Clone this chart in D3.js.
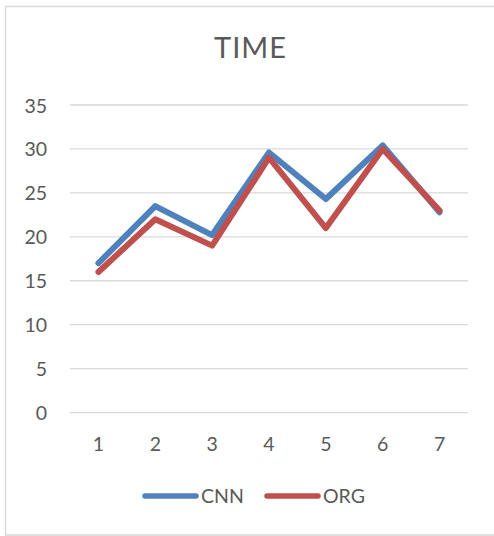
<!DOCTYPE html>
<html>
<head>
<meta charset="utf-8">
<script src="https://cdn.jsdelivr.net/npm/d3@7/dist/d3.min.js"></script>
<style>
  html, body { margin: 0; padding: 0; background: #fff; }
  svg { display: block; }
  text { font-family: Lato, "Noto Sans", sans-serif; fill: #595959; }
</style>
</head>
<body>
<svg id="chart" width="494" height="536"></svg>
<script>
// Chart data
const categories = ["1", "2", "3", "4", "5", "6", "7"];
const cnnValues = [17, 23.5, 20.2, 29.6, 24.3, 30.4, 22.8];
const orgValues = [16, 22, 19, 29, 21, 30, 23];
const yTicks = [0, 5, 10, 15, 20, 25, 30, 35];
const seriesNames = ["CNN", "ORG"];
const seriesColors = ["#4F81BD", "#C0504D"];

const svg = d3.select("#chart");

// Outer chart frame
svg.append("rect")
  .attr("x", 5.5).attr("y", 6.5)
  .attr("width", 500).attr("height", 528.5)
  .attr("fill", "#fff")
  .attr("stroke", "#D9D9D9")
  .attr("stroke-width", 1.5);

// Plot area
const plot = { left: 70, right: 468, top: 105, bottom: 412.6 };

const x = d3.scaleBand()
  .domain(categories)
  .range([plot.left, plot.right]);

const y = d3.scaleLinear()
  .domain([0, 35])
  .range([plot.bottom, plot.top]);

// Title
svg.append("text")
  .attr("x", 250.5).attr("y", 58)
  .attr("text-anchor", "middle")
  .style("font-size", "29px")
  .style("letter-spacing", "1px")
  .text("TIME");

// Horizontal gridlines
svg.append("g")
  .selectAll("line")
  .data(yTicks)
  .join("line")
  .attr("x1", plot.left).attr("x2", plot.right)
  .attr("y1", d => y(d)).attr("y2", d => y(d))
  .attr("stroke", "#D9D9D9")
  .attr("stroke-width", 1.3);

// Y axis labels
const yAxis = d3.axisLeft(y).tickValues(yTicks).tickSize(0).tickPadding(0);
const gy = svg.append("g")
  .attr("transform", `translate(${plot.left - 23},0)`)
  .call(yAxis);
gy.select(".domain").remove();
gy.selectAll("text")
  .style("font-size", "19.5px")
  .style("font-family", "Lato, 'Noto Sans', sans-serif")
  .attr("fill", "#595959")
  .attr("dy", "0.36em");

// X axis labels
const xAxis = d3.axisBottom(x).tickSize(0).tickPadding(0);
const gx = svg.append("g")
  .attr("transform", `translate(0,${plot.bottom})`)
  .call(xAxis);
gx.select(".domain").remove();
gx.selectAll("text")
  .style("font-size", "19.5px")
  .style("font-family", "Lato, 'Noto Sans', sans-serif")
  .attr("fill", "#595959")
  .attr("dy", null)
  .attr("y", 38);

// Series lines
const line = d3.line()
  .x((d, i) => x(categories[i]) + x.bandwidth() / 2)
  .y(d => y(d));

[cnnValues, orgValues].forEach((vals, k) => {
  svg.append("path")
    .datum(vals)
    .attr("d", line)
    .attr("fill", "none")
    .attr("stroke", seriesColors[k])
    .attr("stroke-width", 6)
    .attr("stroke-linejoin", "round")
    .attr("stroke-linecap", "round");
});

// Legend
const legendItems = [
  { name: seriesNames[0], color: seriesColors[0], x1: 145, x2: 196, tx: 201 },
  { name: seriesNames[1], color: seriesColors[1], x1: 267, x2: 318, tx: 323 }
];
const legendY = 496;
const lg = svg.append("g");
legendItems.forEach(it => {
  lg.append("line")
    .attr("x1", it.x1).attr("x2", it.x2)
    .attr("y1", legendY).attr("y2", legendY)
    .attr("stroke", it.color)
    .attr("stroke-width", 5.5)
    .attr("stroke-linecap", "round");
  lg.append("text")
    .attr("x", it.tx).attr("y", legendY)
    .attr("dy", "0.36em")
    .style("font-size", "19.5px")
    .text(it.name);
});
</script>
</body>
</html>
